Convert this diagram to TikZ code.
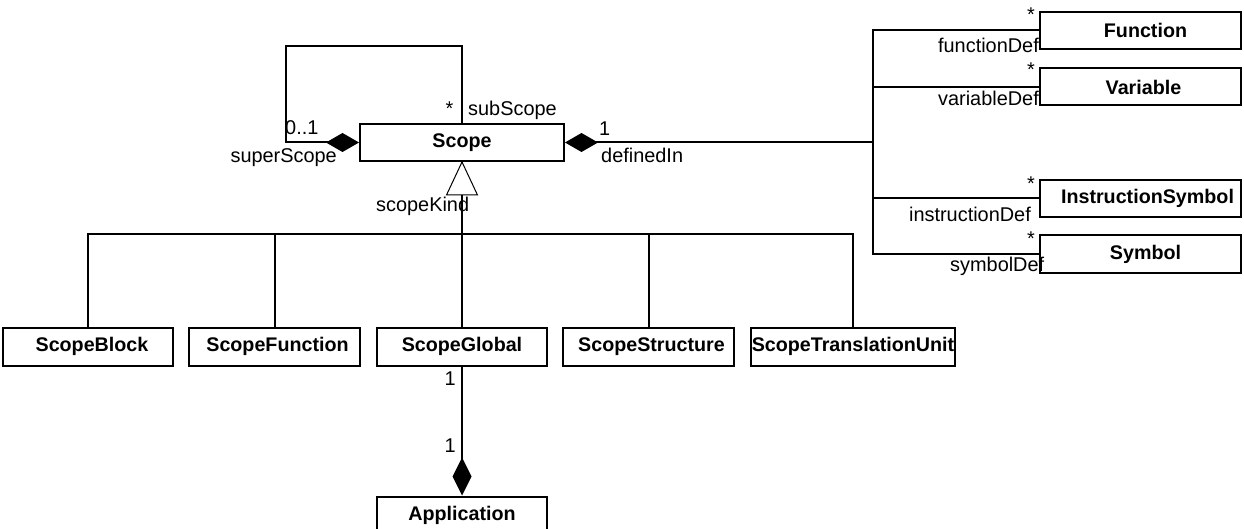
\documentclass[tikz,border=0pt]{standalone}
\usepackage{fontspec}
\setmainfont{Liberation Sans}
\usetikzlibrary{arrows.meta}
\tikzset{
  cls/.style={draw, line width=2pt, inner sep=0pt, font=\fontsize{19.7}{23}\selectfont\bfseries, align=center, minimum height=38pt},
  lbl/.style={inner sep=0pt, font=\fontsize{19.9}{23}\selectfont},
  conn/.style={line width=2pt},
  comp/.style={-{Diamond[length=33pt,width=19pt]}},
  compstart/.style={{Diamond[length=33pt,width=19pt]}-},
  compv/.style={-{Diamond[length=38pt,width=19pt]}},
  gen/.style={line width=1pt, fill=white},
}
\begin{document}
\begin{tikzpicture}[x=1pt,y=-1pt]
\path[use as bounding box, clip] (0,0) rectangle (1244,529);

% classes
\node[cls, minimum width=204pt, text width=204pt, minimum height=37pt] (scope) at (462,142.5) {Scope};
\node[cls, minimum width=201pt, text width=201pt, minimum height=37pt] (function) at (1140.5,30.5) {\hspace*{10pt}Function};
\node[cls, minimum width=201pt, text width=201pt, minimum height=37pt] (variable) at (1140.5,87) {\hspace*{6pt}Variable};
\node[cls, minimum width=201pt, text width=201pt, minimum height=37pt] (instr) at (1140.5,198.5) {\hspace*{14pt}InstructionSymbol};
\node[cls, minimum width=201pt, text width=201pt, minimum height=37pt] (symbol) at (1140.5,254) {\hspace*{10pt}Symbol};

\node[cls, minimum width=170pt, text width=170pt] (sblock) at (88,346.5) {\hspace*{8pt}ScopeBlock};
\node[cls, minimum width=171pt, text width=171pt] (sfunc) at (274.5,346.5) {\hspace*{6pt}ScopeFunction};
\node[cls, minimum width=170pt, text width=170pt] (sglobal) at (462,346.5) {ScopeGlobal};
\node[cls, minimum width=171pt, text width=171pt] (sstruct) at (648.5,346.5) {\hspace*{6pt}ScopeStructure};
\node[cls, minimum width=204pt, text width=204pt] (stu) at (853,346.5) {ScopeTranslationUnit};
\node[cls, minimum width=170pt, text width=170pt] (app) at (462,515.5) {Application};

% self association
\coordinate (loopc) at (286,46);
\draw[conn, comp] (scope.north) |- (loopc) |- (scope.west);

% definitions
\coordinate (tr) at (873,142.5);
\draw[conn, compstart] (scope.east) -- (tr);
\draw[conn] (tr) |- (function.west);
\draw[conn] (tr) |- (variable.west);
\draw[conn] (tr) |- (instr.west);
\draw[conn] (tr) |- (symbol.west);

% generalization
\coordinate (bus) at (462,234);
\draw[conn] (scope.south) -- (bus);
\draw[conn] (sblock.north) |- (bus);
\draw[conn] (sfunc.north) |- (bus);
\draw[conn] (sglobal.north) -- (bus);
\draw[conn] (sstruct.north) |- (bus);
\draw[conn] (stu.north) |- (bus);
\draw[gen] (scope.south) -- ++(-15.5,33) -- ++(31,0) -- cycle;

% application
\draw[conn, compv] (sglobal.south) -- (app.north);

% labels
\node[lbl, anchor=base] (l1) at (449.5,116) {*};
\node[lbl, anchor=base west] (l2) at (468,116) {subScope};
\node[lbl, anchor=base west] (l3) at (285,135) {0..1};
\node[lbl, anchor=base east] (l4) at (337,163) {superScope};
\node[lbl, anchor=base west] (l5) at (599,136) {1};
\node[lbl, anchor=base west] (l6) at (601,163) {definedIn};
\node[lbl, anchor=base west] (l7) at (376,212) {scopeKind};
\node[lbl, anchor=base] (l8) at (1031,22) {*};
\node[lbl, anchor=base east] (l9) at (1039,53) {functionDef};
\node[lbl, anchor=base] (l10) at (1031,77) {*};
\node[lbl, anchor=base east] (l11) at (1039,106) {variableDef};
\node[lbl, anchor=base] (l12) at (1031,191) {*};
\node[lbl, anchor=base east] (l13) at (1031,222) {instructionDef};
\node[lbl, anchor=base] (l14) at (1031,246) {*};
\node[lbl, anchor=base west] (l15) at (950,272) {symbolDef};
\node[lbl, anchor=base east] (l16) at (456,385) {1};
\node[lbl, anchor=base east] (l17) at (456,452) {1};
\end{tikzpicture}
\end{document}
